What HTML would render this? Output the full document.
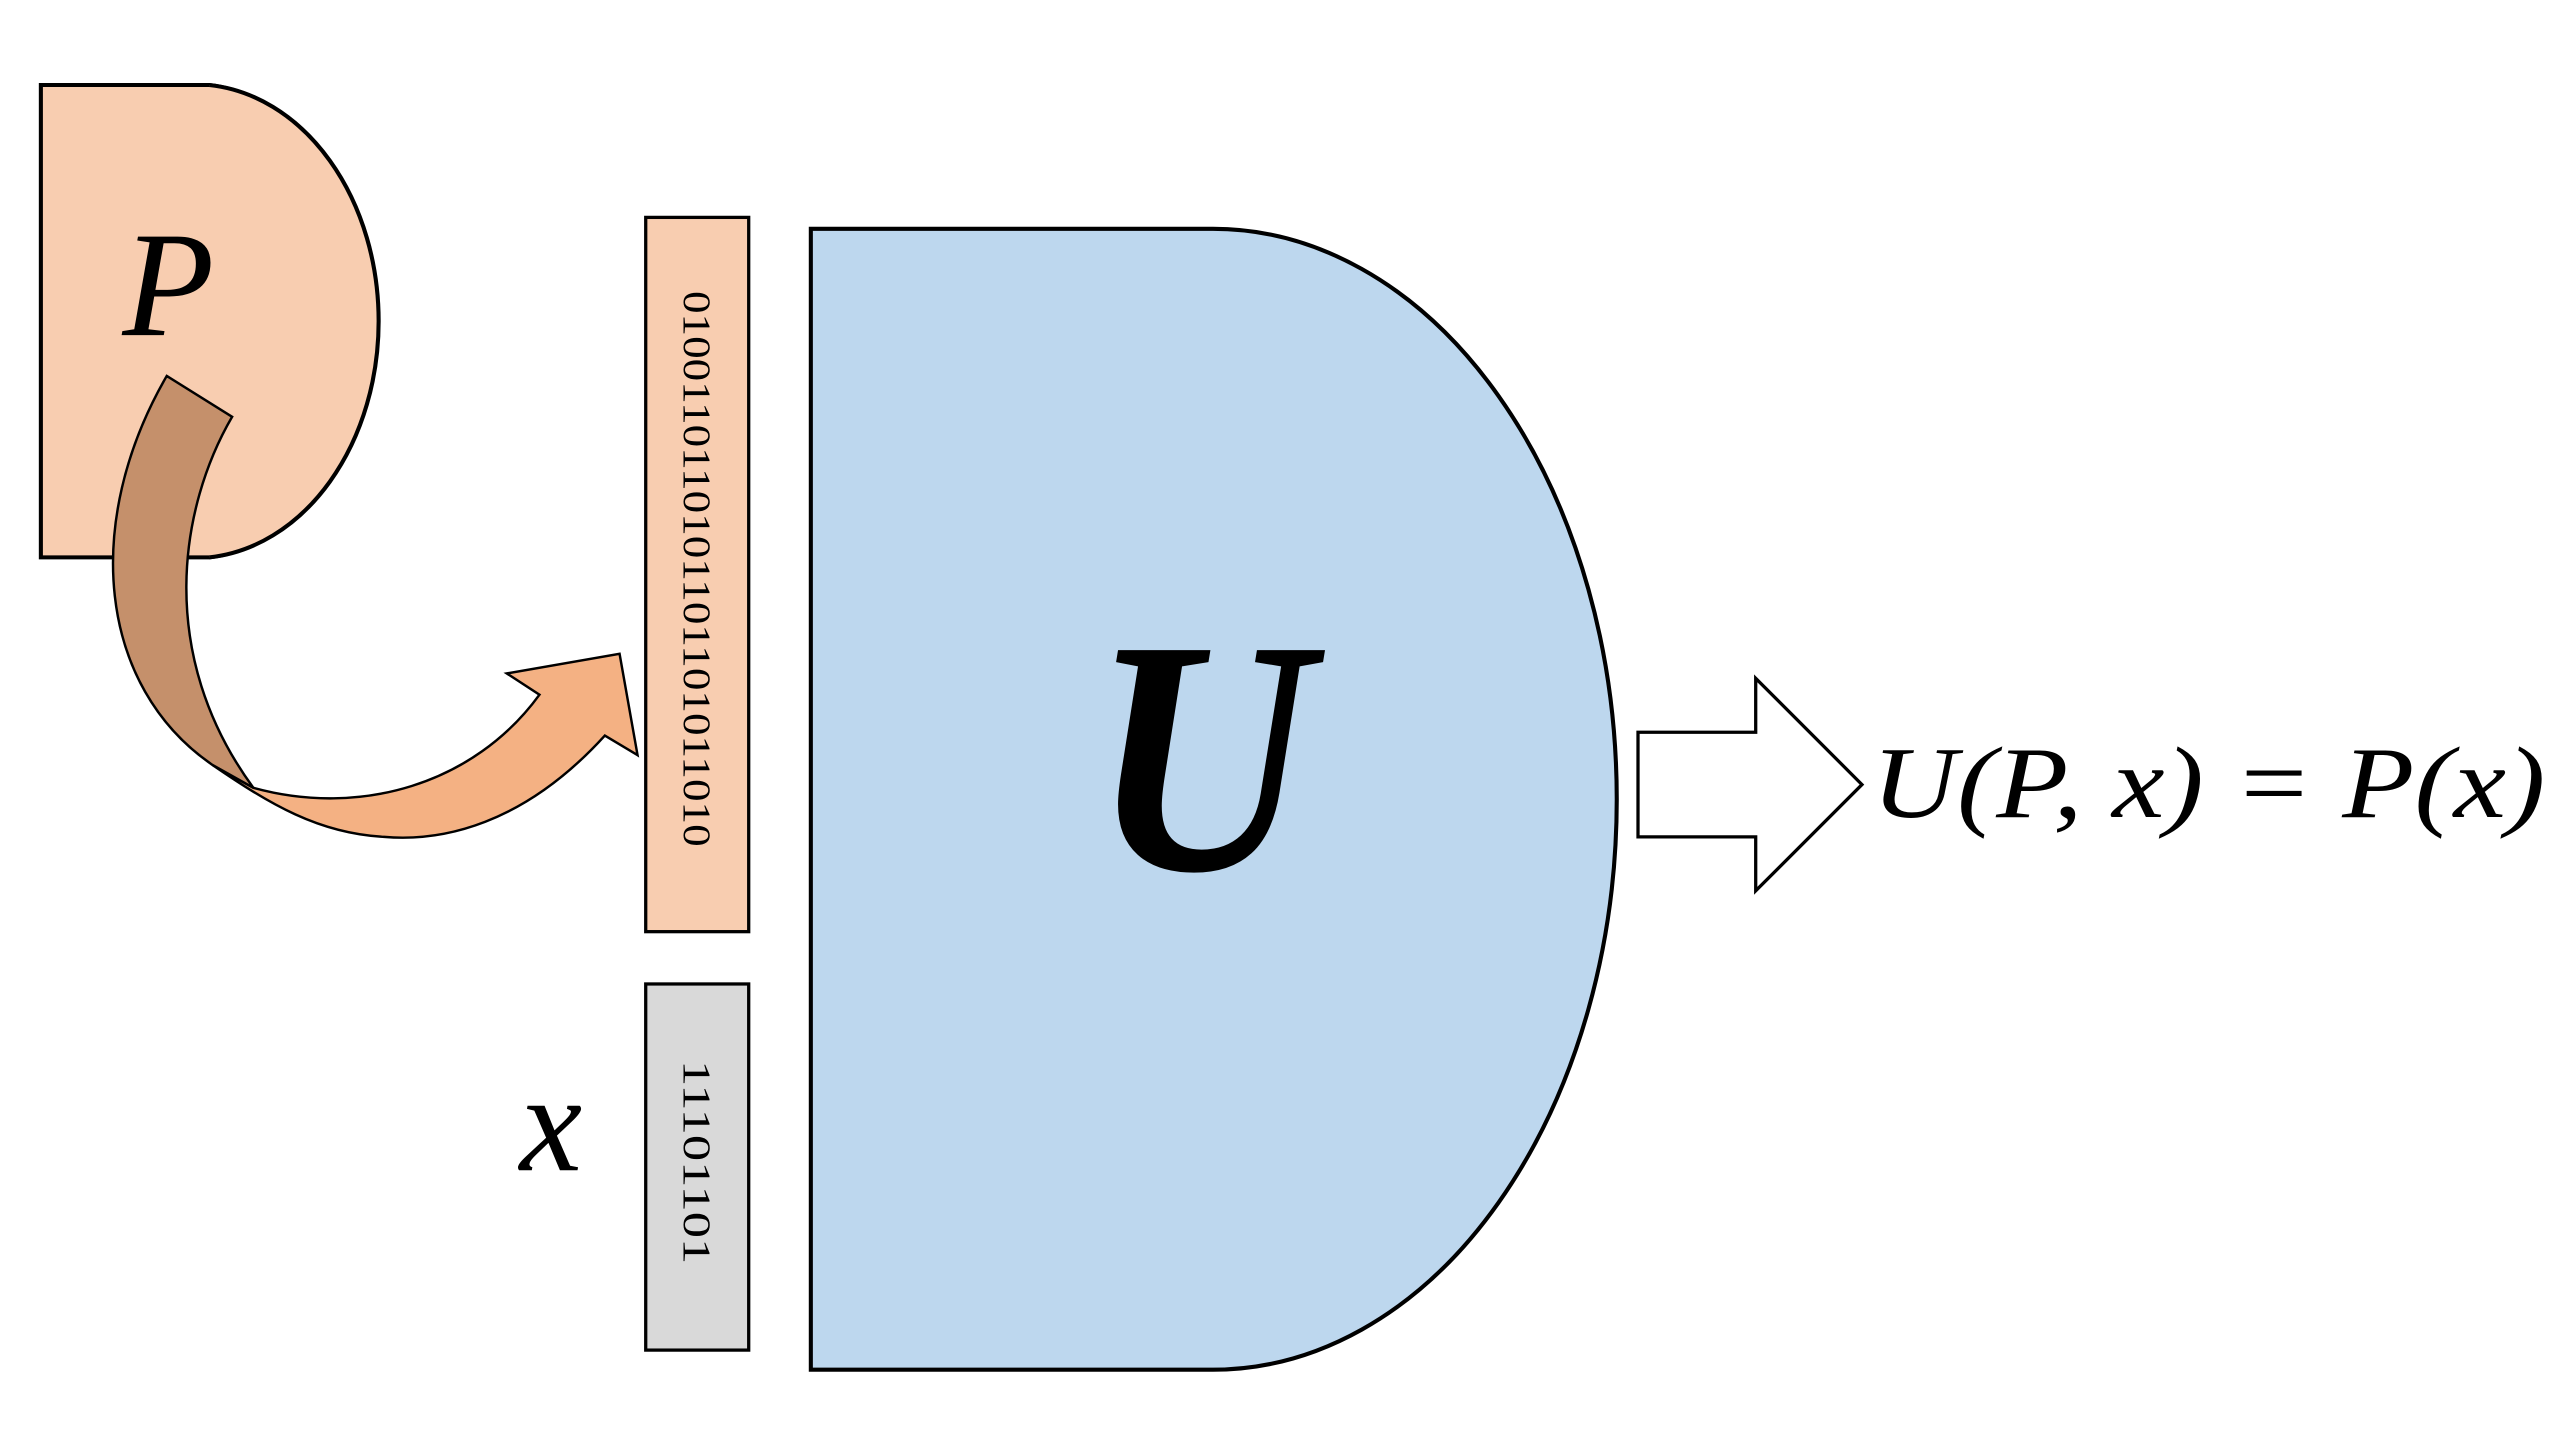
<!DOCTYPE html>
<html><head><meta charset="utf-8"><style>html,body{margin:0;padding:0;background:#fff;overflow:hidden}svg{display:block}</style></head>
<body>
<svg width="2560" height="1440" viewBox="0 0 1566 881" preserveAspectRatio="none" xmlns="http://www.w3.org/2000/svg">
<path d="M25,52 H128 A106,145 0 0 1 128,341 H25 Z" fill="#f8cdb0" stroke="#000" stroke-width="2.5"/>
<path d="M128,52 A113,145 0 0 1 128,341" fill="#f8cdb0" stroke="#000" stroke-width="2.5"/>
<text x="103" y="205" font-family="Liberation Serif, serif" font-style="italic" font-size="92" text-anchor="middle">P</text>
<path d="M130,468 L155,482 C220,500 290,480 330,425 L310,412 L379,400 L390,462 L370,450 C320,505 270,515 235,512 C195,510 165,492 130,468 Z" fill="#f4b183" stroke="#000" stroke-width="1.5"/>
<path d="M102,230 L142,255 C110,310 95,400 155,482 L130,468 C60,420 50,320 102,230 Z" fill="#c5906b" stroke="#000" stroke-width="1.5"/>
<rect x="395" y="133" width="63" height="437" fill="#f8cdb0" stroke="#000" stroke-width="2"/>
<text transform="translate(426,348) rotate(90)" font-family="Liberation Serif, serif" font-size="24" text-anchor="middle" dominant-baseline="central" textLength="340" lengthAdjust="spacingAndGlyphs">0100110110101101101011010</text>
<rect x="395" y="602" width="63" height="224" fill="#d9d9d9" stroke="#000" stroke-width="2"/>
<text transform="translate(426,711) rotate(90)" font-family="Liberation Serif, serif" font-size="24" text-anchor="middle" dominant-baseline="central" textLength="125" lengthAdjust="spacingAndGlyphs">11101101</text>
<text x="337" y="716" font-family="Liberation Serif, serif" font-style="italic" font-size="86" text-anchor="middle">x</text>
<path d="M496,140 H742 A247,349 0 0 1 742,838 H496 Z" fill="#bdd7ee" stroke="#000" stroke-width="2.5"/>
<text x="735" y="532" font-family="Liberation Serif, serif" font-style="italic" font-weight="bold" font-size="205" text-anchor="middle" textLength="135" lengthAdjust="spacingAndGlyphs">U</text>
<path d="M1002,448 H1074 V415 L1139,480 L1074,545 V512 H1002 Z" fill="#fff" stroke="#000" stroke-width="2"/>
<text x="1145" y="500" font-family="Liberation Serif, serif" font-style="italic" font-size="62" textLength="412" lengthAdjust="spacingAndGlyphs">U(P, x) = P(x)</text>
</svg>
</body></html>
